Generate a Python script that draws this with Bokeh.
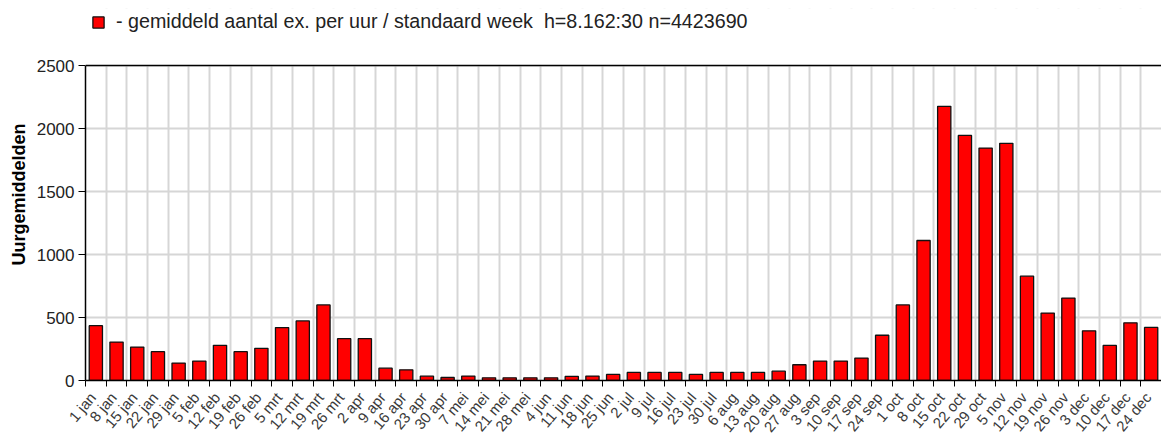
import math
from bokeh.plotting import figure
from bokeh.models import (ColumnDataSource, FixedTicker, Range1d, Span, Legend, LegendItem,
                          BoxAnnotation)
from bokeh.embed import file_html
from bokeh.resources import INLINE

weeks = ["1 jan", "8 jan", "15 jan", "22 jan", "29 jan", "5 feb", "12 feb", "19 feb", "26 feb",
         "5 mrt", "12 mrt", "19 mrt", "26 mrt", "2 apr", "9 apr", "16 apr", "23 apr", "30 apr",
         "7 mei", "14 mei", "21 mei", "28 mei", "4 jun", "11 jun", "18 jun", "25 jun",
         "2 jul", "9 jul", "16 jul", "23 jul", "30 jul", "6 aug", "13 aug", "20 aug", "27 aug",
         "3 sep", "10 sep", "17 sep", "24 sep", "1 oct", "8 oct", "15 oct", "22 oct", "29 oct",
         "5 nov", "12 nov", "19 nov", "26 nov", "3 dec", "10 dec", "17 dec", "24 dec"]
values = [435, 305, 265, 229, 138, 154, 279, 229, 255, 420, 473, 600, 332, 332, 98, 85, 34, 24,
          35, 21, 21, 21, 21, 32, 35, 48, 64, 64, 64, 48, 64, 64, 64, 74, 125,
          154, 154, 178, 359, 600, 1111, 2176, 1945, 1845, 1882, 828, 535, 654, 394, 278, 458, 421]
y_ticks = [0, 500, 1000, 1500, 2000, 2500]
series_label = "- gemiddeld aantal ex. per uur / standaard week  h=8.162:30 n=4423690"
y_title = "Uurgemiddelden"

n = len(weeks)
centers = [i + 0.5 for i in range(n)]
bounds = list(range(n + 1))
LABEL_SHIFT = 0.35    # where each rotated label ends, within its week slot
label_pos = [i + LABEL_SHIFT for i in range(n)]
source = ColumnDataSource(dict(x=centers, top=values, week=weeks))

FONT = "Liberation Sans"
Y_MAX = y_ticks[-1]
PLOT_H = 315          # pixel height of the 0..2500 data area
HEAD_H = 57           # extra room above it, for the legend
y_end = Y_MAX * (PLOT_H + HEAD_H) / PLOT_H

p = figure(frame_width=1076, frame_height=PLOT_H + HEAD_H, output_backend="svg",
           toolbar_location=None,
           x_range=Range1d(0, n), y_range=Range1d(0, y_end),
           min_border_left=85, min_border_right=0, min_border_top=8, min_border_bottom=52)
p.background_fill_color = "white"
p.border_fill_color = "white"
p.outline_line_color = None

r = p.vbar(x="x", top="top", bottom=0, width=0.64, source=source,
           fill_color="#ff0000", line_color="#111111", line_width=1.3)

# x axis: tick marks on the week boundaries (minor), labels (major, no marks)
p.xaxis.ticker = FixedTicker(ticks=label_pos, minor_ticks=bounds)
p.xaxis.major_label_overrides = {pos: w for pos, w in zip(label_pos, weeks)}
p.xaxis.major_label_orientation = math.radians(50)
p.xaxis.major_tick_out = 0
p.xaxis.major_tick_in = 0
p.xaxis.minor_tick_out = 6
p.xaxis.minor_tick_in = 0
p.xaxis.minor_tick_line_color = "black"
p.xaxis.axis_line_color = "black"
p.xaxis.axis_line_width = 1.5
p.xaxis.major_label_text_font = FONT
p.xaxis.major_label_text_font_size = "15px"
p.xaxis.major_label_text_color = "#3a3a3a"
p.xaxis.major_label_standoff = 8

# y axis
p.yaxis.ticker = FixedTicker(ticks=y_ticks)
p.yaxis.bounds = (0, Y_MAX)
p.yaxis.major_tick_out = 7
p.yaxis.major_tick_in = 0
p.yaxis.minor_tick_out = 0
p.yaxis.major_tick_line_color = "black"
p.yaxis.axis_line_color = "black"
p.yaxis.axis_line_width = 1.5
p.yaxis.major_label_text_font = FONT
p.yaxis.major_label_text_font_size = "17px"
p.yaxis.major_label_text_color = "#222222"
p.yaxis.major_label_standoff = 4
p.yaxis.axis_label = y_title
p.yaxis.axis_label_text_font = FONT
p.yaxis.axis_label_text_font_size = "18px"
p.yaxis.axis_label_text_font_style = "bold"
p.yaxis.axis_label_text_color = "black"
p.yaxis.axis_label_standoff = 5

# grids
p.xgrid.ticker = FixedTicker(ticks=bounds)
p.xgrid.grid_line_color = "#d6d6d6"
p.xgrid.grid_line_width = 2
p.ygrid.grid_line_color = "#d6d6d6"
p.ygrid.grid_line_width = 2

# blank header strip above the 2500 line (hides the grid there), then the top border line
p.add_layout(BoxAnnotation(bottom=Y_MAX, fill_color="white", fill_alpha=1.0, line_alpha=0))
p.add_layout(Span(location=Y_MAX, dimension="width", line_color="black", line_width=1.5))

legend = Legend(items=[LegendItem(label=series_label, renderers=[r])], location=(6, 347),
                orientation="horizontal", glyph_width=14, glyph_height=14, padding=0, margin=0,
                label_standoff=11, label_text_font=FONT, label_text_font_size="19.7px",
                label_text_color="#222222", background_fill_alpha=0, border_line_alpha=0)
p.add_layout(legend)

open("out.html", "w").write(file_html(p, INLINE))
